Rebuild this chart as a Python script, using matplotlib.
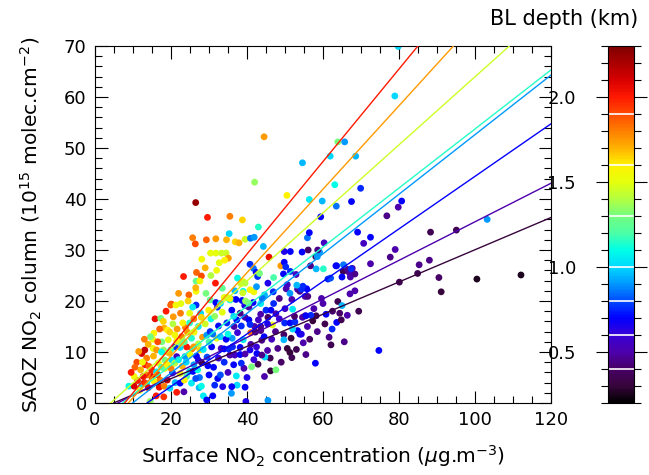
import matplotlib
matplotlib.use("Agg")
import matplotlib.pyplot as plt
import numpy as np
from matplotlib.colors import LinearSegmentedColormap, Normalize
from matplotlib.ticker import MultipleLocator

# ---------------- data ----------------
points = [
    # x (ug/m3), y (1e15 molec/cm2), BL depth (km)
    (44.5, 52.2, 1.75), (42.0, 43.3, 1.35), (26.5, 39.3, 2.25), (29.6, 36.4, 2.0),
    (35.5, 36.6, 1.8), (38.8, 35.9, 1.65), (50.5, 40.7, 1.6), (54.6, 47.1, 0.95),
    (63.9, 51.2, 1.3), (61.9, 48.4, 1.0), (63.1, 42.8, 1.1), (56.4, 39.9, 1.05),
    (59.8, 39.6, 0.95), (63.5, 38.6, 0.85), (59.4, 36.5, 0.7), (43.0, 34.5, 1.15),
    (35.3, 33.2, 1.0), (25.7, 32.4, 1.8), (26.4, 31.2, 1.9), (29.3, 32.0, 1.85),
    (31.8, 32.2, 1.75), (34.6, 32.0, 1.7), (36.9, 31.6, 1.65), (37.9, 31.4, 1.7),
    (39.5, 32.1, 1.45), (40.9, 32.3, 0.85), (41.9, 32.5, 0.9), (44.3, 30.7, 0.95),
    (49.8, 29.7, 0.65), (54.5, 29.6, 0.7), (56.1, 30.0, 0.4), (55.9, 32.4, 0.85),
    (56.4, 33.4, 0.7), (60.3, 31.4, 0.55), (30.4, 29.4, 1.5), (31.8, 29.4, 1.5),
    (33.3, 29.4, 1.45), (34.5, 29.4, 1.45), (79.8, 69.9, 1.0), (78.9, 60.2, 1.0),
    (65.7, 51.2, 0.9), (68.6, 48.4, 0.95), (69.9, 42.1, 0.75), (67.5, 39.5, 0.7),
    (80.7, 39.6, 0.7), (79.8, 38.4, 0.5), (76.8, 36.7, 0.45), (103.2, 36.0, 0.9),
    (69.1, 33.5, 0.7), (70.7, 31.3, 0.55), (72.5, 32.5, 0.7), (79.0, 30.1, 0.5),
    (77.7, 28.6, 0.45), (88.3, 33.5, 0.35), (95.1, 33.9, 0.35), (72.5, 27.3, 0.5),
    (85.3, 27.1, 0.45), (88.0, 28.0, 0.45), (84.9, 25.4, 0.35), (90.5, 24.6, 0.4),
    (100.5, 24.3, 0.25), (112.1, 25.1, 0.25), (80.1, 23.7, 0.35), (65.3, 25.8, 0.35),
    (66.4, 26.2, 0.45), (66.9, 25.6, 0.45), (67.2, 25.3, 0.5), (67.7, 26.4, 0.5),
    (67.2, 24.7, 0.5), (65.0, 24.7, 0.7), (65.4, 27.1, 0.85), (91.1, 21.8, 0.3),
    (74.7, 10.3, 0.7), (58.0, 7.8, 0.7), (65.6, 12.0, 0.45), (62.1, 11.4, 0.35),
    (61.6, 12.9, 0.45), (62.4, 14.5, 0.75), (63.6, 15.8, 0.7), (69.4, 18.0, 0.35),
    (66.4, 17.2, 0.5), (64.8, 16.3, 0.35), (63.9, 19.9, 0.35), (64.4, 17.6, 0.4),
    (65.0, 19.1, 0.95), (67.1, 21.4, 0.5), (68.4, 22.0, 0.5), (68.4, 25.3, 0.45),
    (63.6, 26.9, 0.75), (61.3, 24.3, 0.75), (62.0, 24.5, 0.8), (59.1, 29.6, 0.9),
    (58.1, 28.7, 0.35), (58.6, 30.0, 0.45), (58.2, 26.3, 0.95), (60.1, 26.3, 1.15),
    (56.7, 26.9, 0.45), (59.6, 20.5, 0.5), (60.0, 19.5, 0.5), (55.7, 22.4, 0.7),
    (54.7, 22.9, 0.75), (55.3, 20.9, 0.5), (56.0, 20.9, 0.45), (54.6, 16.8, 0.5),
    (55.9, 15.0, 0.5), (53.9, 13.5, 0.7), (54.8, 11.8, 0.5), (57.3, 16.1, 0.3),
    (58.2, 17.1, 0.35), (56.8, 17.2, 0.75), (57.6, 18.5, 0.5), (55.3, 17.1, 0.45),
    (45.8, 28.6, 2.05), (48.9, 26.9, 1.75), (49.8, 27.6, 0.7), (58.5, 28.7, 0.9),
    (40.8, 27.2, 0.75), (41.7, 26.4, 0.85), (42.4, 25.6, 0.7), (42.8, 24.8, 0.75),
    (43.3, 25.4, 1.3), (47.0, 24.6, 1.2), (49.6, 25.3, 0.7), (51.4, 25.8, 0.75),
    (52.9, 25.2, 0.55), (39.0, 23.8, 1.55), (38.4, 23.4, 1.45), (40.8, 22.2, 1.6),
    (41.8, 21.8, 1.55), (39.0, 21.9, 1.1), (44.6, 21.2, 0.95), (46.9, 21.8, 0.75),
    (50.3, 22.4, 0.5), (50.6, 23.2, 0.55), (53.3, 22.3, 0.5), (53.9, 21.9, 0.45),
    (54.3, 22.3, 0.75), (55.5, 17.1, 0.7), (60.8, 17.4, 0.7), (67.4, 26.3, 0.75),
    (63.4, 26.9, 0.7), (35.8, 20.4, 0.75), (37.1, 20.3, 0.7), (38.7, 20.1, 0.7),
    (39.4, 19.1, 0.65), (40.5, 18.8, 0.5), (41.6, 19.7, 0.7), (43.6, 19.5, 1.05),
    (45.0, 18.2, 0.75), (46.3, 18.2, 0.7), (47.6, 17.5, 0.5), (52.0, 18.4, 1.05),
    (49.9, 15.7, 0.75), (51.3, 15.7, 0.7), (52.6, 15.9, 0.75), (46.7, 15.3, 1.5),
    (45.4, 15.5, 0.65), (43.6, 14.2, 0.45), (41.0, 13.8, 1.85), (42.2, 13.9, 0.4),
    (38.5, 15.1, 0.75), (37.3, 16.3, 0.7), (36.6, 15.0, 0.5), (36.1, 12.7, 0.9),
    (39.0, 12.4, 1.05), (43.9, 12.3, 0.45), (45.4, 10.3, 0.5), (46.1, 8.8, 0.35),
    (44.7, 9.0, 1.0), (42.9, 7.6, 0.35), (35.5, 9.4, 0.5), (36.8, 9.4, 0.55),
    (38.2, 9.5, 0.7), (39.2, 6.8, 0.5), (41.2, 7.1, 1.3), (37.2, 5.3, 1.05),
    (44.6, 5.2, 0.5), (46.2, 6.3, 0.3), (47.6, 6.5, 1.3), (37.4, 3.5, 1.0),
    (35.9, 1.9, 0.9), (39.7, 0.3, 0.65), (45.5, 0.5, 0.9), (49.7, 13.4, 0.4),
    (51.6, 12.7, 0.3), (50.6, 10.7, 0.3), (51.3, 9.9, 0.3), (51.8, 8.9, 0.35),
    (48.1, 10.7, 0.45), (53.3, 14.2, 0.7), (54.3, 13.5, 0.65), (49.7, 12.4, 0.95),
    (52.0, 14.5, 1.0), (36.0, 18.2, 0.7), (38.2, 17.6, 0.45), (39.5, 16.8, 0.5),
    (40.5, 16.3, 0.7), (43.0, 16.3, 0.55), (43.6, 17.4, 0.5), (42.0, 15.0, 0.5),
    (43.6, 15.0, 0.45), (40.8, 15.4, 0.75), (36.2, 11.0, 0.75), (38.2, 10.9, 0.7),
    (40.8, 10.4, 0.65), (39.5, 9.6, 0.5), (42.6, 9.7, 0.7), (43.9, 9.4, 0.45),
    (28.1, 28.2, 1.55), (35.1, 28.4, 1.75), (23.3, 24.8, 2.0), (26.7, 25.6, 1.85),
    (28.0, 24.9, 1.9), (26.6, 23.9, 1.25), (27.6, 23.9, 1.55), (24.7, 21.2, 1.85),
    (26.6, 21.9, 1.55), (29.2, 21.5, 1.3), (20.1, 19.4, 1.9), (22.6, 19.5, 1.5),
    (18.7, 18.0, 2.0), (22.5, 17.6, 1.8), (15.8, 16.5, 2.05), (17.3, 16.6, 1.3),
    (20.6, 16.9, 1.75), (24.9, 17.6, 1.5), (27.8, 17.6, 1.0), (26.6, 19.2, 0.75),
    (25.7, 18.8, 1.05), (30.3, 20.2, 1.25), (29.9, 18.2, 1.6), (32.2, 18.8, 0.75),
    (31.8, 19.7, 0.7), (35.5, 20.2, 1.15), (18.2, 14.7, 1.7), (19.1, 14.3, 1.6),
    (19.7, 13.9, 1.65), (17.6, 12.0, 1.3), (19.3, 12.4, 1.5), (21.6, 14.5, 1.75),
    (23.8, 14.8, 1.8), (24.3, 13.9, 1.75), (26.1, 13.9, 1.55), (23.1, 15.7, 1.6),
    (24.9, 15.7, 1.15), (27.2, 15.0, 1.05), (28.3, 12.9, 1.75), (29.4, 13.3, 0.9),
    (30.3, 14.0, 0.75), (32.5, 15.1, 0.7), (34.7, 15.7, 0.75), (32.0, 12.7, 1.5),
    (30.7, 11.0, 0.7), (33.2, 10.7, 0.55), (34.0, 10.6, 0.7), (35.2, 10.6, 0.75),
    (27.6, 10.4, 1.65), (25.5, 10.6, 1.8), (24.1, 11.0, 2.0), (22.4, 10.9, 1.0),
    (21.0, 11.0, 0.75), (19.9, 10.4, 1.15), (21.5, 9.1, 0.55), (23.7, 9.1, 0.9),
    (26.7, 9.2, 0.7), (27.2, 8.4, 0.65), (28.1, 7.9, 0.35), (29.7, 7.3, 0.7),
    (31.2, 7.0, 0.7), (32.3, 4.8, 0.7), (33.6, 3.2, 0.65), (36.0, 3.2, 0.7),
    (31.0, 1.4, 0.7), (28.5, 1.4, 1.05), (27.4, 3.0, 0.95), (28.0, 3.3, 1.1),
    (25.4, 3.9, 1.05), (23.4, 2.2, 0.5), (21.5, 2.1, 2.0), (18.1, 1.2, 1.95),
    (16.1, 1.4, 2.0), (16.9, 3.1, 2.05), (18.2, 3.3, 1.8), (19.7, 2.9, 1.0),
    (12.3, 3.7, 1.05), (13.6, 3.8, 1.0), (14.9, 5.2, 2.1), (14.9, 6.5, 1.95),
    (13.8, 5.5, 1.8), (12.7, 5.2, 2.05), (11.2, 4.4, 2.0), (10.3, 5.2, 1.55),
    (8.9, 3.3, 1.1), (10.3, 3.3, 2.1), (14.5, 0.3, 1.35), (12.3, 9.7, 2.1),
    (13.1, 10.4, 2.15), (11.5, 10.1, 1.75), (13.6, 8.8, 1.8), (15.4, 9.2, 1.7),
    (15.3, 10.7, 1.55), (16.7, 7.8, 1.5), (13.2, 7.5, 2.0), (14.2, 7.2, 1.85),
    (16.2, 6.1, 1.05), (18.4, 6.8, 1.5), (18.4, 8.4, 1.3), (20.2, 8.4, 1.0),
    (17.1, 4.5, 1.8), (20.4, 5.9, 0.75), (22.4, 5.8, 1.55), (24.1, 5.2, 1.2),
    (24.9, 6.2, 1.0), (25.8, 6.2, 0.7), (21.1, 4.0, 0.95), (22.4, 3.9, 0.7),
    (15.2, 12.5, 1.55), (15.5, 13.7, 1.6), (16.2, 10.4, 1.75), (18.0, 10.4, 1.35),
    (22.8, 13.0, 1.8), (21.0, 13.3, 1.55), (22.6, 11.7, 1.3), (25.4, 12.7, 1.15),
    (27.2, 11.6, 1.4), (32.7, 27.5, 1.5), (34.1, 28.0, 1.6), (26.5, 22.6, 1.7),
    (31.7, 23.5, 2.0), (34.0, 20.7, 1.5), (34.8, 20.7, 1.45), (35.5, 20.5, 1.55),
    (38.9, 21.6, 1.45), (39.6, 20.0, 1.35), (40.4, 19.6, 1.3), (39.5, 23.5, 1.4),
    (19.9, 19.2, 1.85), (21.3, 19.2, 1.55), (14.6, 13.0, 1.3), (29.4, 0.6, 0.7),
    (39.5, 3.1, 0.7), (40.0, 5.0, 0.65), (38.5, 7.8, 0.75), (41.8, 8.5, 0.6),
    (51.3, 21.5, 0.9), (51.8, 20.3, 0.5), (53.1, 23.1, 0.95), (51.4, 29.7, 0.7),
    (50.2, 26.7, 0.75),
    (11.0, 8.0, 1.9), (12.0, 6.5, 1.7), (13.0, 4.0, 1.95), (14.0, 3.0, 2.05),
    (15.5, 4.3, 1.6), (16.5, 5.5, 1.9), (17.5, 7.0, 1.2), (19.0, 7.5, 1.6),
    (20.0, 6.8, 1.8), (21.0, 7.8, 1.4), (22.0, 8.5, 1.05), (23.0, 7.2, 1.7),
    (24.0, 8.0, 1.0), (25.0, 9.5, 1.5), (26.0, 7.5, 0.9), (27.0, 6.5, 1.1),
    (19.5, 9.8, 1.7), (21.5, 12.2, 1.6), (23.5, 12.0, 1.25), (26.0, 11.0, 1.75),
    (28.5, 10.5, 1.05), (29.5, 9.0, 0.8), (30.0, 12.0, 1.2), (31.0, 13.5, 0.85),
    (33.0, 13.0, 1.0), (34.5, 12.5, 0.7), (29.0, 15.5, 1.45), (30.5, 16.5, 1.1),
    (28.0, 16.8, 1.65), (26.0, 16.5, 1.8), (31.5, 17.0, 1.35), (33.5, 17.8, 1.5),
    (33.0, 19.5, 1.0), (36.5, 17.0, 1.0), (37.5, 13.8, 0.6), (35.0, 13.5, 1.1),
    (34.0, 8.0, 0.75), (32.5, 8.8, 0.6), (30.0, 5.5, 0.7), (27.5, 5.0, 0.85),
    (35.0, 6.0, 0.55), (36.5, 7.5, 0.7), (41.0, 11.5, 0.5), (42.5, 11.0, 0.6),
    (44.5, 13.0, 0.7), (46.5, 12.5, 0.55), (47.5, 14.0, 0.45), (48.5, 16.5, 0.6),
    (45.5, 16.8, 0.4), (47.0, 19.5, 0.75), (48.5, 20.5, 0.45), (44.0, 20.5, 0.85),
    (42.5, 22.8, 0.9), (45.5, 23.5, 0.65), (36.8, 22.0, 0.95), (37.5, 24.5, 1.1),
    (33.5, 22.5, 1.25), (30.5, 25.0, 1.4), (32.0, 26.0, 1.55), (29.0, 26.5, 1.7),
    (24.5, 20.0, 1.65), (22.0, 21.5, 1.75), (20.5, 15.5, 1.4), (18.0, 16.0, 1.65),
    (17.0, 14.5, 1.85), (16.5, 12.0, 1.9), (14.0, 11.5, 1.7), (13.0, 12.5, 1.8),
    (12.5, 8.0, 1.55), (10.5, 7.0, 1.85), (9.5, 6.0, 2.0), (11.8, 2.5, 1.5),
    (17.5, 10.0, 1.1), (19.0, 4.5, 2.15), (23.5, 4.5, 1.6), (26.5, 4.8, 0.8),
    (31.5, 3.5, 0.75), (33.0, 5.5, 0.8), (49.0, 8.0, 0.4), (53.0, 10.5, 0.35),
    (55.5, 9.5, 0.45), (52.5, 17.0, 0.4), (50.0, 18.5, 0.55), (56.5, 12.5, 0.4),
    (58.5, 14.0, 0.45), (60.5, 15.5, 0.35), (62.5, 18.0, 0.4),
]
x_surface = [p[0] for p in points]
y_column = [p[1] for p in points]
bl_depth = [p[2] for p in points]

# regression lines per BL-depth class
line_bl = [0.3, 0.5, 0.7, 0.9, 1.15, 1.45, 1.75, 2.0]       # colour of each line
slopes = [0.316, 0.378, 0.515, 0.584, 0.579, 0.667, 0.818, 0.907]
x_intercepts = [4.9, 6.0, 13.7, 9.9, 7.2, 4.1, 8.75, 7.8]

cb_edges = [0.4, 0.6, 0.8, 1.0, 1.3, 1.6, 1.9]

# ---------------- colormap ----------------
anchors = [
    (0.2, (0.0, 0.0, 0.0)), (0.3, (0.22, 0.02, 0.24)), (0.4, (0.28, 0.0, 0.40)),
    (0.5, (0.30, 0.0, 0.68)), (0.6, (0.22, 0.0, 0.85)), (0.7, (0.0, 0.0, 1.0)),
    (0.8, (0.0, 0.30, 1.0)), (0.9, (0.0, 0.60, 1.0)), (1.0, (0.0, 0.85, 1.0)),
    (1.1, (0.0, 1.0, 0.90)), (1.2, (0.30, 1.0, 0.65)), (1.3, (0.45, 1.0, 0.50)),
    (1.4, (0.70, 1.0, 0.25)), (1.5, (0.90, 1.0, 0.05)), (1.6, (1.0, 0.95, 0.0)),
    (1.7, (1.0, 0.70, 0.0)), (1.8, (1.0, 0.50, 0.0)), (1.9, (1.0, 0.30, 0.0)),
    (2.0, (1.0, 0.10, 0.0)), (2.1, (0.85, 0.0, 0.0)), (2.3, (0.50, 0.0, 0.0)),
]
vmin, vmax = 0.2, 2.3
cmap = LinearSegmentedColormap.from_list(
    "idl", [((v - vmin) / (vmax - vmin), c) for v, c in anchors])
norm = Normalize(vmin=vmin, vmax=vmax)

# ---------------- figure ----------------
plt.rcParams['font.family'] = ['DejaVu Sans']
plt.rcParams['mathtext.fontset'] = 'dejavusans'
FS = 13
LFS = 14.5

fig = plt.figure(figsize=(6.49, 4.75), dpi=100)
ax = fig.add_axes([95 / 649, 1 - 403 / 475, 456 / 649, 357 / 475])
cax = fig.add_axes([608 / 649, 1 - 403 / 475, 26 / 649, 357 / 475])

sc = ax.scatter(x_surface, y_column, c=bl_depth, cmap=cmap, norm=norm,
                s=24, linewidths=0, zorder=2)

for cval, b, x0 in zip(line_bl, slopes, x_intercepts):
    xs = np.array([x0, 130.0])
    ax.plot(xs, b * (xs - x0), color=cmap(norm(cval)), lw=1.0, zorder=3)

ax.set_xlim(0, 120)
ax.set_ylim(0, 70)
ax.xaxis.set_major_locator(MultipleLocator(20))
ax.xaxis.set_minor_locator(MultipleLocator(5))
ax.yaxis.set_major_locator(MultipleLocator(10))
ax.yaxis.set_minor_locator(MultipleLocator(2))
ax.tick_params(which='both', direction='in', top=True, right=True, width=0.8,
               labelsize=FS, pad=6)
ax.tick_params(which='major', length=9)
ax.tick_params(which='minor', length=5)
for sp in ax.spines.values():
    sp.set_linewidth(0.8)

ax.set_xlabel(r'Surface NO$_2$ concentration ($\mu$g.m$^{-3}$)', fontsize=LFS,
              labelpad=10)
ax.set_ylabel(r'SAOZ NO$_2$ column (10$^{15}$ molec.cm$^{-2}$)', fontsize=LFS,
              labelpad=14)

cb = fig.colorbar(sc, cax=cax)
cb.outline.set_linewidth(0.8)
cax.yaxis.set_ticks_position('both')
cax.yaxis.set_label_position('left')
cax.yaxis.set_tick_params(labelleft=True, labelright=False)
cax.yaxis.set_major_locator(MultipleLocator(0.5))
cax.yaxis.set_minor_locator(MultipleLocator(0.1))
cax.tick_params(which='both', direction='out', width=0.8, labelsize=FS, pad=14)
cax.tick_params(which='major', length=9)
cax.tick_params(which='minor', length=5)
for e in cb_edges:
    cax.axhline(e, color='white', lw=1.2)
fig.text(564 / 649, 1 - 19 / 475, 'BL depth (km)', fontsize=15, ha='center',
         va='center')

fig.savefig('out.png', dpi=100)
